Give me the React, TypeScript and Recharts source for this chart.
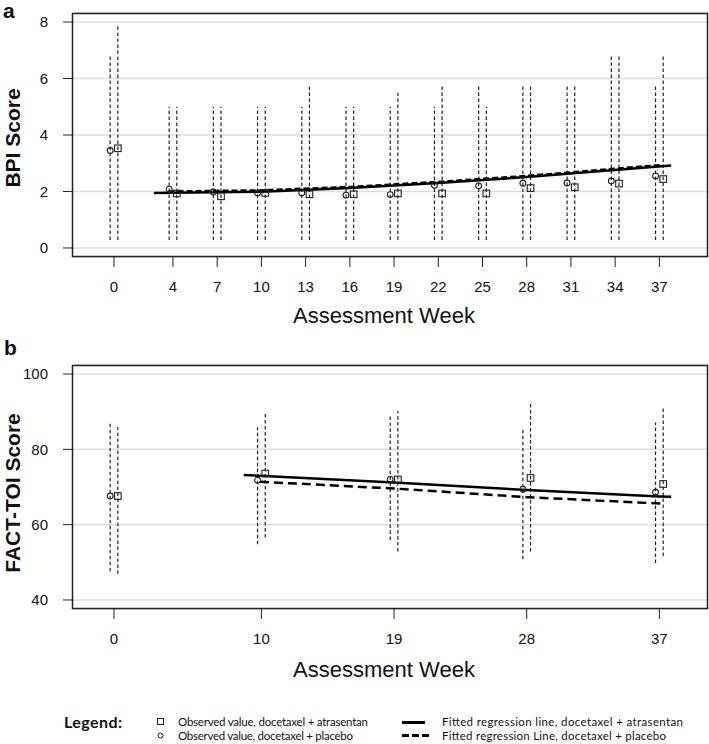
import React from 'react';
import { ComposedChart, Line, Scatter, XAxis, YAxis, CartesianGrid } from 'recharts';

// panel a: BPI score
const weeksA = [0, 4, 7, 10, 13, 16, 19, 22, 25, 28, 31, 34, 37];
const bpiPlacebo = [3.45, 2.08, 1.98, 1.95, 1.95, 1.87, 1.89, 2.22, 2.2, 2.29, 2.3, 2.37, 2.55];
const bpiAtrasentan = [3.53, 1.93, 1.83, 1.95, 1.9, 1.9, 1.93, 1.93, 1.93, 2.12, 2.15, 2.28, 2.44];
const bpiPlaceboLow = [0.28, 0.28, 0.28, 0.28, 0.28, 0.28, 0.28, 0.28, 0.28, 0.28, 0.28, 0.28, 0.28];
const bpiPlaceboHigh = [6.82, 5, 5, 5, 5, 5, 5, 5, 5.75, 5.75, 5.75, 6.8, 5.75];
const bpiAtrasentanLow = [0.28, 0.28, 0.28, 0.28, 0.28, 0.28, 0.28, 0.28, 0.28, 0.28, 0.28, 0.28, 0.28];
const bpiAtrasentanHigh = [7.9, 5, 5, 5, 5.75, 5, 5.5, 5.75, 5, 5.75, 5.75, 6.8, 6.8];
const bpiFitWeeksAtr = [2.7, 10, 16, 22, 28, 37.8];
const bpiFitAtr = [1.95, 1.99, 2.12, 2.3, 2.51, 2.92];
const bpiFitWeeksPla = [3.7, 10, 16, 22, 28, 37.2];
const bpiFitPla = [2.0, 2.04, 2.16, 2.34, 2.55, 2.94];
const bpiTicks = [0, 2, 4, 6, 8];

// panel b: FACT-TOI score
const weeksB = [0, 10, 19, 28, 37];
const factPlacebo = [67.6, 71.8, 72.0, 69.4, 68.6];
const factAtrasentan = [67.6, 73.6, 72.0, 72.4, 70.8];
const factPlaceboLow = [47.6, 54.8, 55.9, 50.8, 49.8];
const factPlaceboHigh = [87.1, 85.9, 89.2, 85.9, 87.1];
const factAtrasentanLow = [46.9, 56.6, 52.9, 52.9, 51.7];
const factAtrasentanHigh = [85.9, 90.0, 90.2, 92.1, 90.9];
const factFitWeeksAtr = [8.8, 19, 28, 37, 37.8];
const factFitAtr = [73.2, 71.2, 69.2, 67.5, 67.4];
const factFitWeeksPla = [9.9, 19, 28, 37.1];
const factFitPla = [71.4, 69.6, 67.3, 65.6];
const factTicks = [40, 60, 80, 100];

const DODGE = 0.26;
const FONT = '"Liberation Sans", Arial, sans-serif';
const INK = '#222';

const toPoints = (weeks: number[], vals: number[], shift = 0) =>
  weeks.map((w, i) => ({ x: w + shift, y: vals[i] }));

const toRanges = (weeks: number[], low: number[], high: number[], shift: number) =>
  weeks.map((w, i) => [{ x: w + shift, y: low[i] }, { x: w + shift, y: high[i] }]);

const CircleDot = (p: any) => (
  <circle cx={p.cx} cy={p.cy} r={2.9} fill="none" stroke={INK} strokeWidth={1.1} />
);
const SquareDot = (p: any) => (
  <rect x={p.cx - 3.3} y={p.cy - 3.3} width={6.6} height={6.6} fill="none" stroke={INK} strokeWidth={1.1} />
);

interface PanelProps {
  top: number;
  weeks: number[];
  placebo: number[];
  atrasentan: number[];
  placeboLow: number[];
  placeboHigh: number[];
  atrLow: number[];
  atrHigh: number[];
  fitAtr: { x: number; y: number }[];
  fitPla: { x: number; y: number }[];
  yDomain: [number, number];
  yTicks: number[];
  fitDash: string;
}

const Panel: React.FC<PanelProps> = (p) => {
  const ranges = [
    ...toRanges(p.weeks, p.placeboLow, p.placeboHigh, -DODGE),
    ...toRanges(p.weeks, p.atrLow, p.atrHigh, DODGE),
  ];
  return (
    <div style={{ position: 'absolute', left: 0, top: p.top }}>
      <ComposedChart width={709} height={310} margin={{ top: 13, right: 1, left: 0, bottom: 0 }}>
        <CartesianGrid vertical={false} stroke="#dedede" strokeWidth={1.5} />
        <XAxis
          type="number"
          dataKey="x"
          domain={[-2.85, 40.3]}
          allowDataOverflow
          ticks={p.weeks}
          interval={0}
          height={53}
          axisLine={false}
          tickLine={{ stroke: INK }}
          tickSize={10}
          tickMargin={14}
          tick={{ fontSize: 15, fill: '#111', fontFamily: FONT }}
        />
        <YAxis
          type="number"
          dataKey="y"
          domain={p.yDomain}
          allowDataOverflow
          ticks={p.yTicks}
          interval={0}
          width={72}
          axisLine={false}
          tickLine={{ stroke: INK }}
          tickSize={9}
          tickMargin={15}
          tick={{ fontSize: 15, fill: '#111', fontFamily: FONT }}
        />
        {ranges.map((r, i) => (
          <Line
            key={'r' + i}
            data={r}
            dataKey="y"
            stroke={INK}
            strokeWidth={1.2}
            strokeDasharray="3.5 2.5"
            dot={false}
            activeDot={false}
            isAnimationActive={false}
          />
        ))}
        <Line data={p.fitAtr} dataKey="y" stroke="#000" strokeWidth={2.5} dot={false} activeDot={false} isAnimationActive={false} />
        <Line data={p.fitPla} dataKey="y" stroke="#000" strokeWidth={2.5} strokeDasharray={p.fitDash} dot={false} activeDot={false} isAnimationActive={false} />
        <Scatter data={toPoints(p.weeks, p.placebo, -DODGE)} dataKey="y" shape={CircleDot} isAnimationActive={false} />
        <Scatter data={toPoints(p.weeks, p.atrasentan, DODGE)} dataKey="y" shape={SquareDot} isAnimationActive={false} />
      </ComposedChart>
    </div>
  );
};

export default function App() {
  return (
    <div style={{ position: 'absolute', left: 0, top: 0, width: 709, height: 744, background: '#fff', overflow: 'hidden' }}>
      <Panel
        top={0}
        weeks={weeksA}
        placebo={bpiPlacebo}
        atrasentan={bpiAtrasentan}
        placeboLow={bpiPlaceboLow}
        placeboHigh={bpiPlaceboHigh}
        atrLow={bpiAtrasentanLow}
        atrHigh={bpiAtrasentanHigh}
        fitAtr={toPoints(bpiFitWeeksAtr, bpiFitAtr)}
        fitPla={toPoints(bpiFitWeeksPla, bpiFitPla)}
        yDomain={[-0.32, 8.32]}
        yTicks={bpiTicks}
        fitDash="6 3"
      />
      <Panel
        top={352}
        weeks={weeksB}
        placebo={factPlacebo}
        atrasentan={factAtrasentan}
        placeboLow={factPlaceboLow}
        placeboHigh={factPlaceboHigh}
        atrLow={factAtrasentanLow}
        atrHigh={factAtrasentanHigh}
        fitAtr={toPoints(factFitWeeksAtr, factFitAtr)}
        fitPla={toPoints(factFitWeeksPla, factFitPla)}
        yDomain={[37.6, 102.4]}
        yTicks={factTicks}
        fitDash="9 5"
      />
      <svg width={709} height={744} style={{ position: 'absolute', left: 0, top: 0, pointerEvents: 'none' }}>
        <g fontFamily={FONT} fill="#111">
          <rect x={72.5} y={13.5} width={635} height={243} fill="none" stroke={INK} strokeWidth={1.5} />
          <rect x={72.5} y={365.5} width={635} height={243} fill="none" stroke={INK} strokeWidth={1.5} />
          <text x={3} y={18} fontSize={21} fontWeight="bold">a</text>
          <text x={4} y={355} fontSize={21} fontWeight="bold">b</text>
          <text transform="translate(20,138) rotate(-90)" textAnchor="middle" fontSize={21} fontWeight="bold">BPI Score</text>
          <text transform="translate(20,493) rotate(-90)" textAnchor="middle" fontSize={21} fontWeight="bold">FACT-TOI Score</text>
          <text x={384} y={323} textAnchor="middle" fontSize={22}>Assessment Week</text>
          <text x={384} y={677} textAnchor="middle" fontSize={22}>Assessment Week</text>
        </g>
        <g fontFamily='Lato, "Open Sans", sans-serif' fill="#111">
          <text x={64} y={728} fontSize={16} fontWeight="bold" textLength={58} lengthAdjust="spacing">Legend:</text>
          <rect x={157.5} y={718.5} width={6} height={6} fill="none" stroke={INK} strokeWidth={1} />
          <circle cx={160.5} cy={735.5} r={2.5} fill="none" stroke={INK} strokeWidth={1} />
          <text x={178} y={725.5} fontSize={11.5} textLength={190} lengthAdjust="spacing">Observed value, docetaxel + atrasentan</text>
          <text x={178} y={739.5} fontSize={11.5} textLength={175} lengthAdjust="spacing">Observed value, docetaxel + placebo</text>
          <line x1={402} y1={722.5} x2={425} y2={722.5} stroke="#000" strokeWidth={3} />
          <line x1={402} y1={735.5} x2={430} y2={735.5} stroke="#000" strokeWidth={3} strokeDasharray="7 3" />
          <text x={442} y={725.5} fontSize={11.5} textLength={241} lengthAdjust="spacing">Fitted regression line, docetaxel + atrasentan</text>
          <text x={442} y={739.5} fontSize={11.5} textLength={224} lengthAdjust="spacing">Fitted regression Line, docetaxel + placebo</text>
        </g>
      </svg>
    </div>
  );
}
